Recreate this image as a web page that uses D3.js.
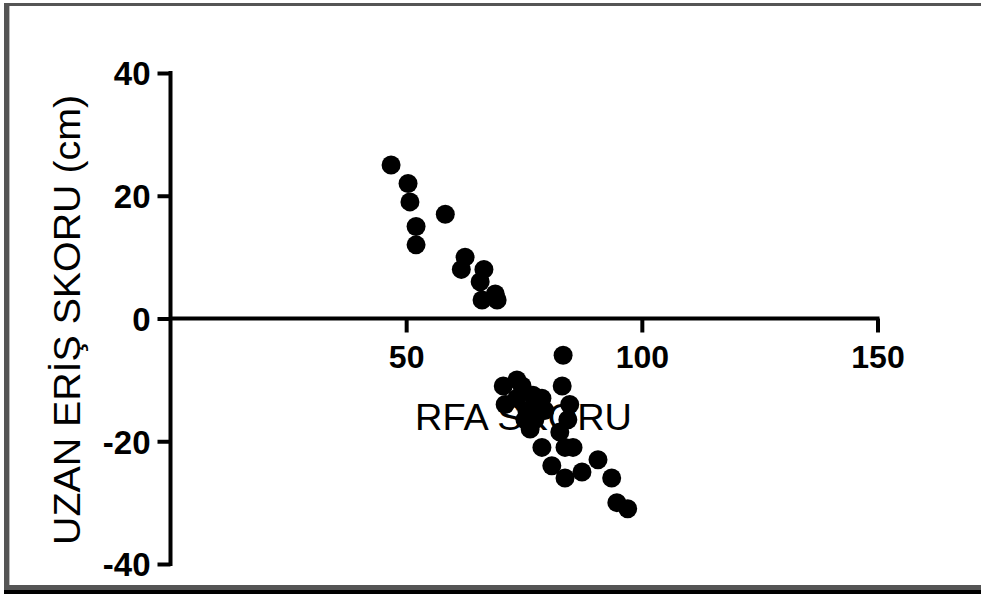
<!DOCTYPE html>
<html>
<head>
<meta charset="utf-8">
<script src="https://cdn.jsdelivr.net/npm/d3@7"></script>
<style>
  body { margin: 0; background: #fff; }
  svg { display: block; }
  .tick text { font-family: "Liberation Sans", Arial, sans-serif; font-weight: bold; fill: #000; }
</style>
</head>
<body>
<div id="chart"></div>
<script>
// RFA score (x) vs long reach score (y)
var rfaScore = [46.8, 50.4, 50.8, 52.1, 52.1, 58.3, 62.5, 61.7, 66.5, 65.7, 66.1, 69.3, 68.9,
    83.3, 70.6, 73.5, 71.0, 74.6, 83.1, 78.8, 84.7, 75.6, 78.0, 84.3, 76.3, 82.6, 85.4,
    78.8, 83.7, 90.7, 80.9, 87.3, 83.7, 93.6, 94.7, 97.0, 76.9, 73.5, 75.2, 77.3, 79.4];
var reachScore = [25, 22, 19, 15, 12, 17, 10, 8, 8, 6, 3, 3, 4,
    -6, -11, -10, -14, -11, -11, -13, -14, -15, -14, -16.5, -18, -18.5, -21,
    -21, -21, -23, -24, -25, -26, -26, -30, -31, -12.5, -13, -16.5, -16.5, -15];
var xTicks = [50, 100, 150];
var yTicks = [40, 20, 0, -20, -40];

var W = 981, H = 597;

var svg = d3.select("#chart").append("svg")
    .attr("width", W)
    .attr("height", H);

// frame round the picture
svg.append("rect").attr("x", 4).attr("y", 3).attr("width", W - 4).attr("height", 3).attr("fill", "#555");
svg.append("rect").attr("x", 4).attr("y", 3).attr("width", 5).attr("height", 588).attr("fill", "#555");
svg.append("rect").attr("x", 9).attr("y", 6).attr("width", 1).attr("height", 579).attr("fill", "#bbb");
svg.append("rect").attr("x", 4).attr("y", 585).attr("width", W - 4).attr("height", 5).attr("fill", "#555");
svg.append("rect").attr("x", 4).attr("y", 590).attr("width", W - 4).attr("height", 4).attr("fill", "#000");

const x = d3.scaleLinear().domain([0, 150]).range([170.5, 877.5]);
const y = d3.scaleLinear().domain([-40, 40]).range([564, 73]);

// Y axis
var gy = svg.append("g")
    .attr("transform", `translate(${x(0)},0)`)
    .call(d3.axisLeft(y).tickValues(yTicks).tickSize(13).tickSizeOuter(0).tickPadding(7)
        .tickFormat(d => String(d)));
gy.select(".domain").attr("stroke", "#000").attr("stroke-width", 4)
    .attr("d", `M0,${y(40) - 2}V${y(-40) + 2}`);
gy.selectAll(".tick line").attr("stroke", "#000").attr("stroke-width", 4);
gy.selectAll(".tick text").style("font-size", "33px").attr("dy", "0.36em");

// X axis at y = 0
var gx = svg.append("g")
    .attr("transform", `translate(0,${y(0)})`)
    .call(d3.axisBottom(x).tickValues(xTicks).tickSize(14).tickSizeOuter(0).tickPadding(11));
gx.select(".domain").attr("stroke", "#000").attr("stroke-width", 4)
    .attr("d", `M${x(0)},0H${x(150) + 2}`);
gx.selectAll(".tick line").attr("stroke", "#000").attr("stroke-width", 4);
gx.selectAll(".tick text").style("font-size", "32px").attr("dy", "0.75em");

// axis titles
svg.append("text")
    .attr("x", 523.5)
    .attr("y", 430)
    .attr("text-anchor", "middle")
    .attr("textLength", 217)
    .attr("lengthAdjust", "spacingAndGlyphs")
    .style("font-family", "Liberation Sans, Arial, sans-serif")
    .style("font-size", "37px")
    .text("RFA SKORU");

svg.append("text")
    .attr("transform", "translate(80,320) rotate(-90)")
    .attr("text-anchor", "middle")
    .attr("textLength", 450)
    .attr("lengthAdjust", "spacingAndGlyphs")
    .style("font-family", "Liberation Sans, Arial, sans-serif")
    .style("font-size", "37px")
    .text("UZAN ERİŞ SKORU (cm)");

// dots
svg.append("g")
    .selectAll("circle")
    .data(d3.zip(rfaScore, reachScore))
    .join("circle")
    .attr("cx", d => x(d[0]))
    .attr("cy", d => y(d[1]))
    .attr("r", 9.5)
    .attr("fill", "#000");
</script>
</body>
</html>
